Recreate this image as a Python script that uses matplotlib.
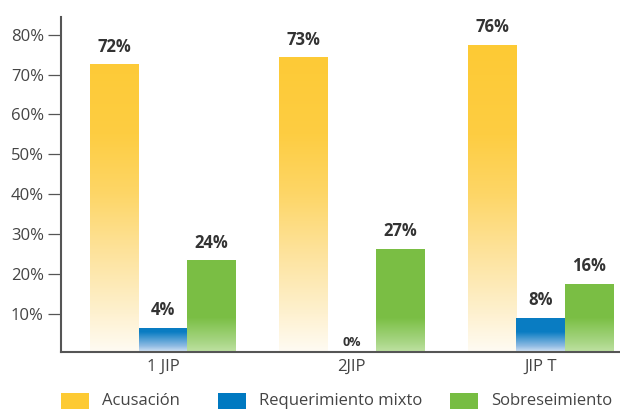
import numpy as np
import matplotlib
matplotlib.use('Agg')
import matplotlib.pyplot as plt
from matplotlib.colors import LinearSegmentedColormap, Normalize
from matplotlib.patches import Rectangle

plt.rcParams['font.family'] = ['Open Sans', 'DejaVu Sans']

# data (bar heights in %, printed labels as shown)
groups = ['1 JIP', '2JIP', 'JIP T']
series = ['Acusación', 'Requerimiento mixto', 'Sobreseimiento']
acusacion = [72.4, 74.2, 77.4]
requerimiento = [6.5, 0.0, 9.0]
sobreseimiento = [23.3, 26.3, 17.5]
acusacion_lbl = ['72%', '73%', '76%']
requerimiento_lbl = ['4%', '0%', '8%']
sobreseimiento_lbl = ['24%', '27%', '16%']
yticks = [10, 20, 30, 40, 50, 60, 70, 80]

# colour ramps, (y value in %, colour) - the fade is tied to height on the axis
ramps = [
    [(0, '#fffcf5'), (10, '#fef1d0'), (25, '#fde39d'), (40, '#fdd667'), (55, '#fdcd42'), (85, '#fdc930')],
    [(0, '#eef3fb'), (2, '#8fbbe3'), (5.5, '#0a7dc3'), (85, '#0079c1')],
    [(0, '#c3e3a8'), (3, '#a8d685'), (9, '#7bbf45'), (85, '#77bd42')],
]
solid = ['#fdca33', '#0079c1', '#77bd42']

YMIN, YMAX = 0.5, 84.5

def make_cmap(ramp, name):
    mx = ramp[-1][0]
    stops = [(v / mx, c) for v, c in ramp]
    return LinearSegmentedColormap.from_list(name, stops, N=2048), Normalize(0, mx)

fig = plt.figure(figsize=(6.2, 4.09), dpi=100)
ax = fig.add_axes([61 / 620, 57 / 409, 559 / 620, 335.3 / 409])

x = np.arange(len(groups))
w = 0.2566
values = [acusacion, requerimiento, sobreseimiento]
labels = [acusacion_lbl, requerimiento_lbl, sobreseimiento_lbl]

for i, (vals, lbls) in enumerate(zip(values, labels)):
    cmap, norm = make_cmap(ramps[i], 'r%d' % i)
    xs = x + (i - 1) * w
    bars = ax.bar(xs, np.array(vals) - YMIN, w, bottom=YMIN, color='none', edgecolor='none')
    for b, v, l in zip(bars, vals, lbls):
        if v > YMIN:
            ys = np.linspace(YMIN, v, 1024)
            rgb = cmap(norm(ys))[:, None, :]
            ax.imshow(rgb, origin='lower', aspect='auto', interpolation='nearest',
                      extent=(b.get_x(), b.get_x() + w, YMIN, v), zorder=2)
        if v > 1:
            ax.annotate(l, (b.get_x() + w / 2, v), xytext=(0, 13), textcoords='offset points',
                        ha='center', va='center', fontsize=12, fontweight='bold', color='#333333')
        else:
            ax.annotate(l, (b.get_x() + w / 2, YMIN), xytext=(0, 6.5), textcoords='offset points',
                        ha='center', va='center', fontsize=9, fontweight='bold', color='#333333')

ax.set_xlim(-0.54, 2.42)
ax.set_ylim(YMIN, YMAX)
ax.set_yticks(yticks)
ax.set_yticklabels(['%d%%' % t for t in yticks])
ax.set_xticks(x)
ax.set_xticklabels(groups)

for s in ['top', 'right']:
    ax.spines[s].set_visible(False)
for s in ['left', 'bottom']:
    ax.spines[s].set_color('#555555')
    ax.spines[s].set_linewidth(1.5)

ax.tick_params(axis='y', length=9.4, width=0.9, color='#555555', pad=3,
               labelsize=12, labelcolor='#444444')
ax.tick_params(axis='x', length=0, pad=5, labelsize=12, labelcolor='#444444')

# legend along the bottom edge
leg_x = [61, 218, 450]
for i, name in enumerate(series):
    fig.patches.append(Rectangle((leg_x[i] / 620, (409 - 413) / 409), 28 / 620, 20 / 409,
                                 transform=fig.transFigure, facecolor=solid[i],
                                 edgecolor='none'))
    fig.text((leg_x[i] + 41) / 620, (409 - 405) / 409, name, fontsize=12,
             color='#444444', ha='left', va='baseline')

fig.savefig('out.png', dpi=100)
